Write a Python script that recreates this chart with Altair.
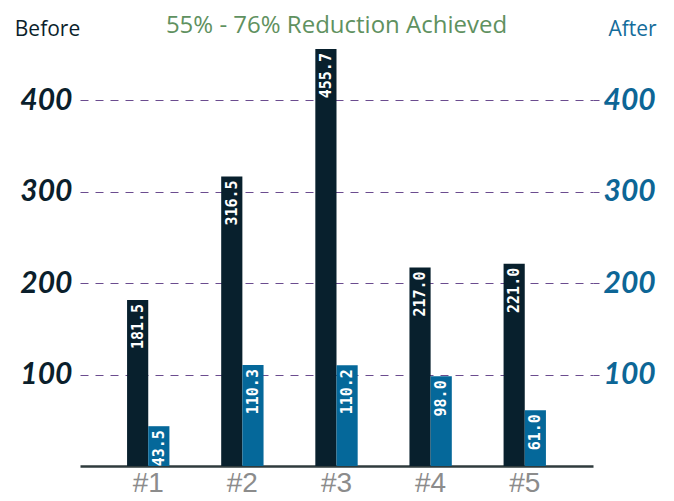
import altair as alt
import pandas as pd

groups = ["#1", "#2", "#3", "#4", "#5"]
before = [181.5, 316.5, 455.7, 217.0, 221.0]
after = [43.5, 110.3, 110.2, 98.0, 61.0]
series = ["Before", "After"]
y_ticks = [100, 200, 300, 400]
title_text = "55% - 76% Reduction Achieved"

df = pd.DataFrame({
    "group": groups * 2,
    "series": ["Before"] * len(groups) + ["After"] * len(groups),
    "value": before + after,
})
df["label"] = df["value"].map(lambda v: f"{v:.1f}")

C_BEFORE = "#08202d"
C_AFTER = "#05689a"
GRID = "#6b4c8f"
HAND = "Lato"

x_enc = alt.X(
    "group:N", sort=groups,
    scale=alt.Scale(paddingInner=0.55, paddingOuter=0.5),
    axis=alt.Axis(title=None, labelAngle=0, labelFont="Liberation Sans",
                  labelFontSize=28, labelColor="#8c8c8c", labelPadding=3,
                  domainColor="#2f3b3d", domainWidth=2.5, ticks=False),
)
xo_enc = alt.XOffset("series:N", sort=series, scale=alt.Scale(domain=series))
yscale = alt.Scale(domain=[0, 482], nice=False, zero=True)

y_left = alt.Y(
    "value:Q", scale=yscale,
    axis=alt.Axis(orient="left", values=y_ticks, grid=True, gridDash=[8, 7],
                  gridColor=GRID, gridWidth=1, domain=False, ticks=False,
                  labelFont=HAND, labelFontSize=30, labelFontWeight="bold",
                  labelFontStyle="italic", labelColor="#0b1f2c", labelPadding=8,
                  title="Before", titleAngle=0, titleX=-33, titleY=10,
                  titleAlign="center", titleBaseline="alphabetic",
                  titleFont="Open Sans", titleFontSize=21, titleFontWeight="normal",
                  titleColor="#0b1f2c"),
)
y_right = alt.Y(
    "value:Q", scale=yscale,
    axis=alt.Axis(orient="right", values=y_ticks, grid=False, domain=False,
                  ticks=True, tickSize=6, tickColor=GRID,
                  labelFont=HAND, labelFontSize=30, labelFontWeight="bold",
                  labelFontStyle="italic", labelColor="#0d6696", labelPadding=4,
                  title="After", titleAngle=0, titleX=39, titleY=10,
                  titleAlign="center", titleBaseline="alphabetic",
                  titleFont="Open Sans", titleFontSize=21, titleFontWeight="normal",
                  titleColor="#146c9b"),
)

def bars(name, y_enc, color):
    base = alt.Chart().transform_filter(alt.datum.series == name)
    b = base.mark_bar(color=color).encode(x=x_enc, xOffset=xo_enc, y=y_enc)
    t = base.mark_text(angle=270, align="right", baseline="middle", dx=-4,
                       color="white", font="DejaVu Sans Mono", fontSize=15,
                       fontWeight="bold").encode(
        x=x_enc, xOffset=xo_enc, y=y_enc, text="label:N")
    return alt.layer(b, t)

left = bars("Before", y_left, C_BEFORE)
right = bars("After", y_right, C_AFTER)

chart = alt.layer(left, right, data=df).resolve_scale(y="independent").properties(
    width=513, height=441,
    title=alt.TitleParams(text=title_text, color="#5f9160", fontSize=24,
                          font="Open Sans", fontWeight="normal", anchor="middle",
                          offset=-20),
    autosize=alt.AutoSizeParams(type="none"),
    padding={"left": 72, "top": 17, "right": 73, "bottom": 34},
).configure_view(stroke=None)

chart.save("out.html", embed_options={"renderer": "svg", "actions": False})
